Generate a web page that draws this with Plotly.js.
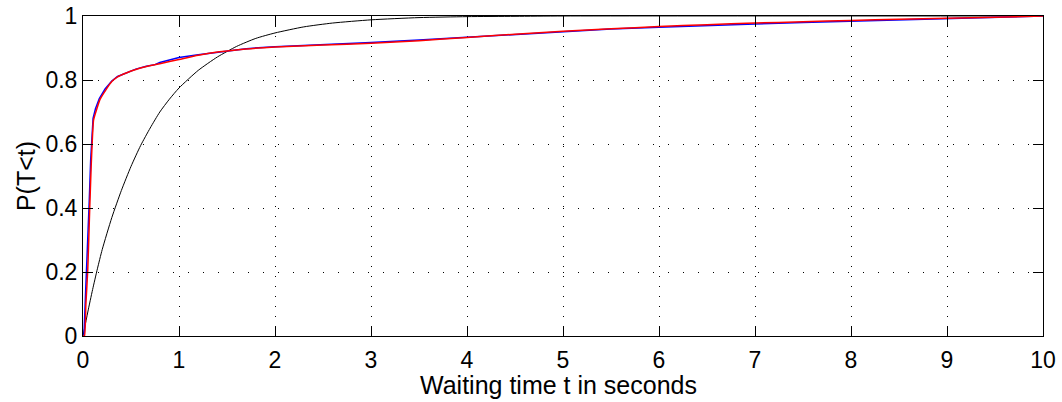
<!DOCTYPE html>
<html>
<head>
<meta charset="utf-8">
<script src="https://cdn.plot.ly/plotly-3.0.1.min.js"></script>
<style>
  html, body { margin: 0; padding: 0; background: #ffffff; }
  #chart { width: 1062px; height: 402px; }
</style>
</head>
<body>
<div id="chart"></div>
<script>
// Cumulative distribution of waiting times (seconds)

// Exponential reference curve
const tExp = [0, 0.05, 0.1, 0.15, 0.2, 0.3, 0.4, 0.5, 0.6, 0.7, 0.8, 0.9, 1.0, 1.2, 1.4, 1.6, 1.8, 2.0, 2.3, 2.6, 3.0, 3.5, 4.0, 4.5, 5.0, 10];
const pExp = [0, 0.075, 0.145, 0.21, 0.27, 0.37, 0.455, 0.53, 0.595, 0.65, 0.70, 0.74, 0.775, 0.83, 0.872, 0.905, 0.93, 0.947, 0.966, 0.978, 0.988, 0.995, 0.998, 0.999, 1.0, 1.0];

// Measured waiting times
const tMeas = [0, 0.01, 0.025, 0.045, 0.065, 0.08, 0.09, 0.105, 0.13, 0.17, 0.23, 0.3, 0.36, 0.45, 0.55, 0.66, 0.75, 0.8, 0.9, 1.0, 1.2, 1.42, 1.7, 2.0, 2.5, 3.0, 3.5, 4.0, 4.5, 5.0, 5.5, 6.0, 6.5, 7.0, 7.5, 8.0, 8.5, 9.0, 9.5, 9.9, 10];
const pMeas = [0, 0, 0.12, 0.25, 0.42, 0.55, 0.62, 0.68, 0.71, 0.742, 0.772, 0.797, 0.811, 0.823, 0.834, 0.843, 0.848, 0.855, 0.862, 0.870, 0.879, 0.888, 0.898, 0.904, 0.910, 0.917, 0.925, 0.934, 0.943, 0.952, 0.959, 0.965, 0.971, 0.975, 0.980, 0.984, 0.989, 0.992, 0.995, 0.998, 1.0];

// Model fit
const tFit = [0, 0.015, 0.03, 0.05, 0.07, 0.085, 0.095, 0.11, 0.14, 0.175, 0.24, 0.3, 0.36, 0.45, 0.55, 0.66, 0.8, 1.0, 1.2, 1.42, 1.7, 2.0, 2.5, 3.0, 3.5, 4.0, 4.5, 5.0, 5.5, 6.0, 6.5, 7.0, 7.5, 8.0, 8.5, 9.0, 9.5, 10];
const pFit = [0, 0, 0.10, 0.21, 0.40, 0.53, 0.60, 0.675, 0.706, 0.738, 0.77, 0.795, 0.81, 0.822, 0.833, 0.842, 0.851, 0.864, 0.877, 0.888, 0.897, 0.903, 0.909, 0.915, 0.923, 0.933, 0.943, 0.952, 0.960, 0.967, 0.973, 0.978, 0.982, 0.986, 0.990, 0.993, 0.996, 1.0];

const xTicks = [0, 1, 2, 3, 4, 5, 6, 7, 8, 9, 10];
const yTicks = [0, 0.2, 0.4, 0.6, 0.8, 1];
const yTickText = ['0', '0.2', '0.4', '0.6', '0.8', '1'];

const xTitle = 'Waiting time t in seconds';
const yTitle = 'P(T<t)';

const FONT = 'Liberation Sans, Arial, Helvetica, sans-serif';

const traces = [
  { x: tExp, y: pExp, mode: 'lines', line: { color: '#000000', width: 1, shape: 'spline', smoothing: 0.6 }, hoverinfo: 'skip' },
  { x: tMeas, y: pMeas, mode: 'lines', line: { color: '#0000ff', width: 1.5 }, hoverinfo: 'skip' },
  { x: tFit, y: pFit, mode: 'lines', line: { color: '#ff0000', width: 1.5, shape: 'spline', smoothing: 0.5 }, hoverinfo: 'skip' }
];

const axisCommon = {
  showline: true, linecolor: '#000000', linewidth: 1, mirror: 'ticks',
  ticks: 'inside', ticklen: 10, tickcolor: '#000000', tickwidth: 1,
  showgrid: true, gridcolor: '#000000', gridwidth: 1,
  zeroline: false, fixedrange: true, automargin: false,
  tickfont: { family: FONT, size: 23, color: '#000000' }
};

const layout = {
  width: 1062, height: 402,
  margin: { l: 83, r: 19, t: 16, b: 66 },
  paper_bgcolor: '#ffffff', plot_bgcolor: '#ffffff',
  showlegend: false,
  xaxis: Object.assign({}, axisCommon, {
    range: [0, 10], tickvals: xTicks, ticktext: xTicks.map(String),
    griddash: '1px,9px', ticklabelstandoff: 3
  }),
  yaxis: Object.assign({}, axisCommon, {
    range: [0, 1], tickvals: yTicks, ticktext: yTickText,
    griddash: '1px,14px',
    title: { text: yTitle, font: { family: FONT, size: 25, color: '#000000' }, standoff: 2 }
  }),
  // x-axis label placed just under the tick labels
  annotations: [{
    text: xTitle, xref: 'paper', yref: 'paper', x: 0.5, y: 0,
    xanchor: 'center', yanchor: 'top', xshift: -5, yshift: -34,
    showarrow: false, borderpad: 0,
    font: { family: FONT, size: 25, color: '#000000' }
  }]
};

Plotly.newPlot('chart', traces, layout, { staticPlot: true, displayModeBar: false });
</script>
</body>
</html>
